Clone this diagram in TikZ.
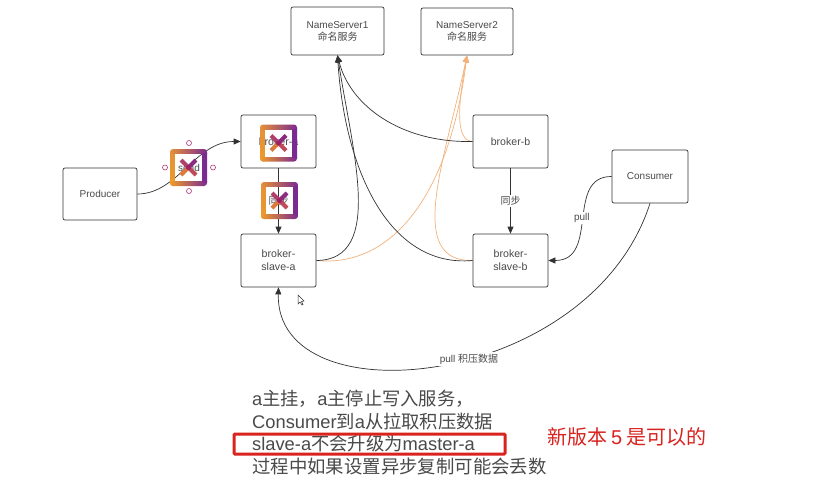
\documentclass[tikz,border=0pt]{standalone}
\usepackage{fontspec}
\setmainfont{Liberation Sans}
\newfontfamily\cjk{Noto Sans CJK SC}
\usetikzlibrary{arrows.meta}
\definecolor{ink}{HTML}{333333}
\definecolor{txt}{HTML}{4A4A4A}
\definecolor{orangeline}{HTML}{F2B27A}
\definecolor{iconA}{HTML}{EE9B2A}
\definecolor{iconM}{HTML}{B0558A}
\definecolor{iconB}{HTML}{7B2A90}
\definecolor{crossA}{HTML}{DD7A3A}
\definecolor{crossB}{HTML}{B0406A}
\definecolor{crossC}{HTML}{8A2A80}
\definecolor{crossD}{HTML}{C04A5A}
\definecolor{crossM}{HTML}{A02068}
\definecolor{redmark}{HTML}{D8231F}
\tikzset{
  box/.style={draw=ink,line width=.7pt,rounded corners=2pt,fill=white,minimum width=75pt,minimum height=53pt,align=center,text=txt,font=\fontsize{10}{13}\selectfont,inner sep=1pt},
  brokerbox/.style={box,font=\fontsize{10.6}{13}\selectfont},
  conn/.style={draw=ink,line width=.7pt,-{Triangle[length=7pt,width=6pt]}},
  oconn/.style={draw=orangeline,line width=.7pt,-{Triangle[length=7pt,width=6pt]}},
  lab/.style={fill=white,inner sep=1.5pt,text=txt,font=\fontsize{10}{12}\selectfont},
  note/.style={anchor=west,inner sep=0pt,text=txt,font=\fontsize{18.3}{20}\selectfont},
  handle/.style={draw=iconB!70!red,line width=.5pt,circle,inner sep=0pt,minimum size=5pt},
  iconx/.pic={
    % four separate bars keep the inside of the frame see-through
    \begin{scope}
    \clip[rounded corners=3pt] (-18.5,-18.5) rectangle (18.5,18.5);
    \shade[bottom color=iconA,top color=iconA!85!iconM] (-18.5,18.5) rectangle (-14,-14);
    \shade[left color=iconA!85!iconM,right color=iconB] (-18.5,-18.5) rectangle (18.5,-14);
    \shade[left color=iconA,right color=iconB] (-18.5,14) rectangle (18.5,18.5);
    \shade[bottom color=iconB,top color=iconB] (14,-14) rectangle (18.5,14);
    \end{scope}
    \draw[line width=4pt,color=crossA] (-7.5,7.5) -- (0,0);
    \draw[line width=4pt,color=crossC] (7.5,-7.5) -- (0,0);
    \draw[line width=4pt,color=crossB] (-7.5,-7.5) -- (0,0);
    \draw[line width=4pt,color=crossD] (7.5,7.5) -- (0,0);
    \fill[color=crossM] (0,0) circle (2.6pt);
  }
}
\begin{document}
\begin{tikzpicture}[x=1pt,y=-1pt]
\useasboundingbox (0,0) rectangle (814,482);
\fill[white] (0,0) rectangle (814,482);
% nodes
\node[box,minimum width=93pt,minimum height=48pt] (ns1) at (337.5,31) {NameServer1\\[-1pt]{\cjk 命名服务}};
\node[box,minimum width=92pt,minimum height=47pt] (ns2) at (467,31.5) {NameServer2\\[-1pt]{\cjk 命名服务}};
\node[brokerbox] (ba) at (278.5,141.5) {broker-a};
\node[brokerbox] (bb) at (510.5,141.5) {broker-b};
\node[brokerbox] (sa) at (278.5,260.5) {broker-\\slave-a};
\node[brokerbox] (sb) at (510.5,260.5) {broker-\\slave-b};
\node[box,minimum width=74pt,minimum height=52pt] (pr) at (100,194) {Producer};
\node[box,minimum width=76pt] (co) at (650,176.5) {Consumer};
% orange connectors
\draw[oconn] (bb.west) .. controls (455,141) and (458,105) .. (ns2.south);
\draw[oconn] (sa.east) .. controls (395,268) and (450,190) .. (ns2.south);
\draw[oconn] (sb.west) .. controls (405,262) and (445,160) .. (ns2.south);
% dark connectors
\draw[conn] (bb.west) .. controls (400,143) and (350,105) .. (ns1.south);
\draw[conn] (sa.east) .. controls (385,260) and (352,150) .. (ns1.south);
\draw[conn] (sb.west) .. controls (390,268) and (345,172) .. (ns1.south);
\draw[conn] (pr.east) .. controls (178,194) and (195,141.5) .. (ba.west);
\draw[conn] (ba.south) -- node[lab,pos=.5,fill=none] (l1) {\cjk 同步} (sa.north);
\draw[conn] (bb.south) -- node[lab,pos=.5] (l2) {\cjk 同步} (sb.north);
\draw[conn] (co.west) .. controls (565,176) and (600,260.5) .. node[lab,pos=.5] (l3) {pull} (sb.east);
\draw[conn] (co.south) .. controls (590,390) and (275,420) .. node[lab,pos=.445] (l4) {pull {\cjk 积压数据}} (sa.south);
% selection and icons
\node[lab,fill=none] (l5) at (189,167.5) {send};
\node[handle] (h1) at (189,143) {};
\node[handle] (h2) at (165,167.5) {};
\node[handle] (h3) at (213,167.5) {};
\node[handle] (h4) at (189,191) {};
\pic at (188.5,167.5) {iconx};
\pic at (278.5,143) {iconx};
\pic at (279.5,200.5) {iconx};
% cursor
\draw[ink,line width=.5pt,fill=white] (298,295) -- (298,304) -- (300,302) -- (302,305) -- (303,304.5) -- (301.5,301.5) -- (304,301) -- cycle;
% notes
\node[note] (n1) at (252,399) {a{\cjk 主挂，}a{\cjk 主停止写入服务，}};
\node[note] (n2) at (252,422) {Consumer{\cjk 到}a{\cjk 从拉取积压数据}};
\node[note] (n3) at (252,444) {slave-a{\cjk 不会升级为}master-a};
\node[note,font=\fontsize{18.4}{20}\selectfont] (n4) at (252,467) {\cjk 过程中如果设置异步复制可能会丢数};
\node[draw=redmark,line width=3pt,rounded corners=1pt,minimum width=271pt,minimum height=20pt,inner sep=0pt] (hl) at (369.5,444) {};
\node[note,text=redmark,font=\fontsize{20}{20}\selectfont] (n5) at (547,437) {{\cjk 新版本}\hspace{4pt}5\hspace{4pt}{\cjk 是可以的}};
\end{tikzpicture}
\end{document}
